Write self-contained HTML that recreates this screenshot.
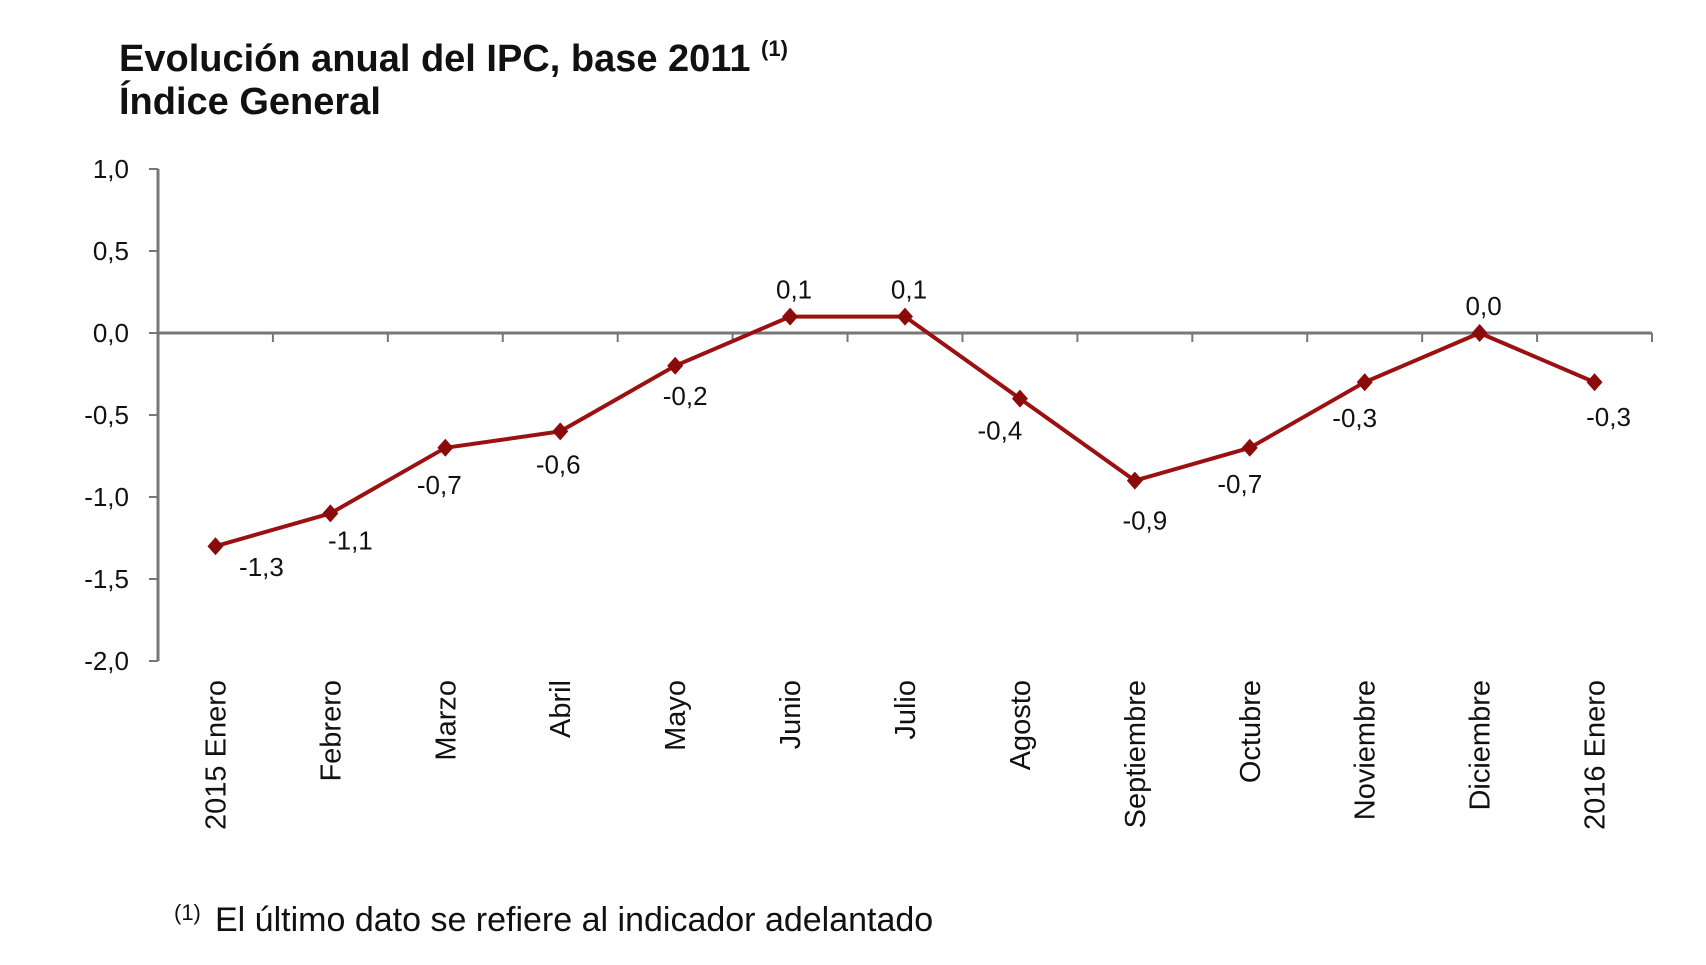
<!DOCTYPE html>
<html><head><meta charset="utf-8"><style>
body{margin:0;background:#fff;width:1706px;height:960px;overflow:hidden;font-family:"Liberation Sans",Arial,sans-serif}
</style></head><body>
<svg width="1706" height="960">
<text x="119" y="71" font-size="38" font-weight="bold" fill="#111">Evolución anual del IPC, base 2011 <tspan font-size="22" dy="-15">(1)</tspan></text>
<text x="119" y="114" font-size="38" font-weight="bold" fill="#111">Índice General</text>
<g id="axes"></g><g id="series"></g>
<text x="174" y="920" font-size="22" fill="#111">(1)</text>
<text x="215" y="931" font-size="34" fill="#111">El último dato se refiere al indicador adelantado</text>
</svg>
<script>
const categories=["2015 Enero","Febrero","Marzo","Abril","Mayo","Junio","Julio","Agosto","Septiembre","Octubre","Noviembre","Diciembre","2016 Enero"];
const values=[-1.3,-1.1,-0.7,-0.6,-0.2,0.1,0.1,-0.4,-0.9,-0.7,-0.3,0.0,-0.3];
const valueLabels=["-1,3","-1,1","-0,7","-0,6","-0,2","0,1","0,1","-0,4","-0,9","-0,7","-0,3","0,0","-0,3"];
const yTicks=[1.0,0.5,0.0,-0.5,-1.0,-1.5,-2.0];
const yTickLabels=["1,0","0,5","0,0","-0,5","-1,0","-1,5","-2,0"];
const X0=158,X1=1652,Y0=169,YMIN=-2,YMAX=1,Y1=661;
const step=(X1-X0)/categories.length;
const xs=i=>X0+step*(i+0.5);
const ys=v=>Y0+(YMAX-v)/(YMAX-YMIN)*(Y1-Y0);
const NS="http://www.w3.org/2000/svg";
function mk(t,a,p){const e=document.createElementNS(NS,t);for(const k in a)e.setAttribute(k,a[k]);p.appendChild(e);return e;}
const ax=document.getElementById('axes'),se=document.getElementById('series');
let e=mk('line',{x1:X0,y1:Y0,x2:X0,y2:Y1,stroke:'#777','stroke-width':3},ax);


yTicks.forEach((t,i)=>{
 mk('line',{x1:X0-9,y1:ys(t),x2:X0,y2:ys(t),stroke:'#777','stroke-width':2},ax);
 const l=mk('text',{x:129,y:ys(t)+9,'font-size':26,'text-anchor':'end',fill:'#111'},ax);
 l.textContent=yTickLabels[i];
 
 
});
e=mk('line',{x1:X0,y1:ys(0),x2:X1,y2:ys(0),stroke:'#777','stroke-width':3},ax);


for(let i=1;i<=categories.length;i++){mk('line',{x1:X0+step*i,y1:ys(0),x2:X0+step*i,y2:ys(0)+9,stroke:'#777','stroke-width':2},ax);}
categories.forEach((c,i)=>{
 const l=mk('text',{x:0,y:0,'font-size':29,'text-anchor':'end',fill:'#111',transform:`translate(${xs(i)+10},680) rotate(-90)`},ax);
 l.textContent=c;
 
 
});
const pl=mk('polyline',{points:values.map((v,i)=>xs(i)+','+ys(v)).join(' '),fill:'none',stroke:'#9b1111','stroke-width':4,'stroke-linejoin':'round'},se);


values.forEach((v,i)=>{
 const x=xs(i),y=ys(v);
 const m=mk('polygon',{points:`${x},${y-9} ${x+8},${y} ${x},${y+9} ${x-8},${y}`,fill:'#8b0a0a'},se);
 
 
 let dx=0,dy=38;
 if(v>=0){dx=4;dy=-18;}
 if(i===0){dx=46;dy=30;}
 if(i===1){dx=20;dy=36;}
 if(i===2){dx=-6;dy=46;}
 if(i===3){dx=-2;dy=42;}
 if(i===4){dx=10;dy=39;}
 if(i===7){dx=-20;dy=41;}
 if(i===8){dx=10;dy=49;}
 if(i===9){dx=-10;dy=45;}
 if(i===10){dx=-10;dy=45;}
 if(i===12){dx=14;dy=44;}
 const t=mk('text',{x:x+dx,y:y+dy,'font-size':26,'text-anchor':'middle',fill:'#111'},se);
 t.textContent=valueLabels[i];
 
 
});
</script>
</body></html>
